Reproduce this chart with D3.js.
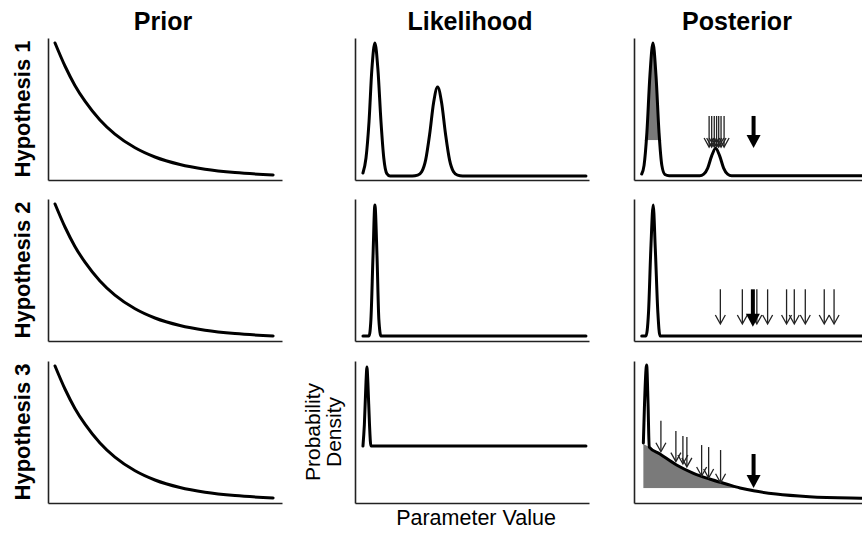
<!DOCTYPE html>
<html>
<head>
<meta charset="utf-8">
<script src="https://cdn.jsdelivr.net/npm/d3@7"></script>
<style>
	body { margin: 0; background: #fff; }
	svg { display: block; font-family: "Liberation Sans", Arial, Helvetica, sans-serif; }
	.axis path { stroke: #222; stroke-width: 1.6px; }
	.curve { fill: none; stroke: #000; stroke-width: 3px; stroke-linejoin: round; stroke-linecap: round; }
	.shade { fill: #7a7a7a; stroke: none; }
</style>
</head>
<body>
<div id="chart"></div>
<script>
// Titles
var colTitles = ["Prior", "Likelihood", "Posterior"];
var rowLabels = ["Hypothesis 1", "Hypothesis 2", "Hypothesis 3"];

// Curves as [parameter, density], both on a 0-100 scale
var priorCurve = [[3.0,96.5],[7.3,80.1],[11.5,66.6],[15.8,55.5],[22.2,42.3],[28.6,32.3],[37.2,22.7],
	[45.7,16.2],[56.4,10.9],[67.1,7.6],[79.9,5.2],[96.2,3.6]];

var like1Curve = [[3.4,4.9],[4.7,15.5],[6.0,41.2],[7.2,77.7],[8.5,96.5],[9.8,77.7],[11.1,41.2],[12.3,15.5],
	[13.6,4.5],[15.0,2.8],[24.5,2.8],[26.8,3.4],[28.5,5.8],[30.2,14.2],[31.9,32.2],[33.6,54.6],[35.3,65.5],
	[37.0,54.6],[38.7,32.2],[40.4,14.2],[42.1,5.8],[43.8,3.4],[46.0,2.8],[98.7,2.8]];
var like2Curve = [[3.4,3.5],[6.0,3.5],[6.8,15],[7.7,60],[8.5,95.8],[9.4,60],[10.2,15],[11.1,3.5],[98.7,3.5]];
var like3Curve = [[3.4,40.1],[4.0,55],[4.7,85],[5.1,95.8],[5.5,85],[6.2,55],[6.8,40.1],[98.7,40.1]];

var post1Curve = [[3.3,4.2],[4.3,10.3],[5.5,33.2],[6.8,73.5],[8.1,96.5],[9.4,73.5],[10.7,33.2],[11.9,10.3],
	[13.2,3.9],[15.0,3.0],[28.1,3.0],[29.8,4.1],[31.5,8.4],[33.2,17.0],[34.9,22.3],[36.6,17.0],[38.3,8.4],
	[40.0,4.1],[41.7,3.0],[100,3.0]];
var post2Curve = [[3.3,3.5],[5.1,3.5],[6.2,20],[7.2,65],[8.2,95.8],[9.1,65],[10.2,20],[11.1,3.5],[100,3.5]];
var post3Curve = [[4.0,42.3],[4.5,70],[5.4,97.2],[6.0,70],[6.5,39.4],[11.1,34.5],[18.2,26.8],[25.2,21.1],
	[32.3,16.9],[39.4,13.4],[45.3,10.6],[51.1,8.6],[60.7,6.3],[74.9,4.4],[97.0,3.3],[100,3.2]];

// Shaded parts of the posteriors, filled down to a floor value
var post1Shade = [[4.3,10.3],[5.5,33.2],[6.8,73.5],[8.1,96.5],[9.4,73.5],[10.7,33.2],[11.9,10.3]];
var post1Floor = 28;
var post3Shade = [[4.0,41.5],[6.5,39.4],[11.1,34.5],[18.2,26.8],[25.2,21.1],[32.3,16.9],[39.4,13.4],
	[45.3,10.6],[51.1,8.6]];
var post3Floor = 10.4;

// Sample arrows [parameter, top, tip] and the mean arrow
var post1Samples = [[32.1,45.1,23.2],[33.2,45.1,23.2],[34.3,45.1,23.2],[35.3,45.1,23.2],[36.2,45.1,23.2],
	[37.2,45.1,23.2],[38.5,45.1,23.2]];
var post1Mean = [51.1,45.1,22.5];
var post2Samples = [[36.9,36.4,12.0],[46.3,36.4,12.0],[52.5,36.4,12.0],[57.1,36.4,12.0],[65.2,36.4,12.0],
	[68.5,36.4,12.0],[73.2,36.4,12.0],[81.3,36.4,12.0],[85.5,36.4,12.0]];
var post2Mean = [50.8,36.4,10.1];
var post3Samples = [[11.5,58.0,36.1],[17.9,50.7,29.1],[20.9,47.2,27.5],[22.6,46.5,25.4],[28.9,40.8,19.0],
	[31.9,39.4,17.6],[37.0,37.3,14.3]];
var post3Mean = [51.1,34.5,10.6];

var W = 862, H = 533;
var colLeft = [48, 355, 634];
var rowTop = [38, 199, 361];
var panelW = 234, panelH = 142;

var svg = d3.select("#chart").append("svg")
	.attr("width", W)
	.attr("height", H);

/**
One small plot: axes, curve, optional shading and arrows
*/
var Panel = function(config){
	this.shade = null;
	this.floor = 0;
	this.samples = [];
	this.mean = null;
	Object.keys(config).forEach(key => this[key] = config[key]);

	this.left = colLeft[this.col];
	this.top = rowTop[this.row];
	this.id = "p" + this.row + this.col;

	this.setupScales();
	this.drawAxes();
	this.drawShade();
	this.drawCurve();
	this.drawArrows();
};

Panel.prototype.setupScales = function(){
	this.x = d3.scaleLinear().domain([0, 100]).range([this.left, this.left + panelW]);
	this.y = d3.scaleLinear().domain([0, 100]).range([this.top + panelH, this.top]);
};

Panel.prototype.drawAxes = function(){
	svg.append("g")
		.attr("class", "axis")
		.attr("transform", `translate(0, ${this.top + panelH})`)
		.call(d3.axisBottom(this.x).tickValues([]).tickSizeOuter(0));
	svg.append("g")
		.attr("class", "axis")
		.attr("transform", `translate(${this.left}, 0)`)
		.call(d3.axisLeft(this.y).tickValues([]).tickSizeOuter(0));
};

Panel.prototype.drawShade = function(){
	if (!this.shade) return;
	let x = this.x, y = this.y, floor = this.floor;

	// only keep what lies above the floor
	svg.append("clipPath")
		.attr("id", "clip" + this.id)
		.append("rect")
		.attr("x", this.left)
		.attr("y", this.top - 10)
		.attr("width", panelW)
		.attr("height", y(floor) - this.top + 10);

	svg.append("path")
		.datum(this.shade)
		.attr("class", "shade")
		.attr("clip-path", `url(#clip${this.id})`)
		.attr("d", d3.area()
			.x(d => x(d[0]))
			.y0(y(floor))
			.y1(d => y(d[1]))
			.curve(d3.curveMonotoneX));
};

Panel.prototype.drawCurve = function(){
	let x = this.x, y = this.y;
	svg.append("path")
		.datum(this.curve)
		.attr("class", "curve")
		.attr("d", d3.line()
			.x(d => x(d[0]))
			.y(d => y(d[1]))
			.curve(d3.curveMonotoneX));
};

Panel.prototype.drawArrows = function(){
	let x = this.x, y = this.y;
	let g = svg.append("g");

	// thin arrows for the samples
	this.samples.forEach(function(a){
		let ax = x(a[0]), top = y(a[1]), tip = y(a[2]);
		g.append("line")
			.attr("x1", ax).attr("x2", ax)
			.attr("y1", top).attr("y2", tip - 1)
			.attr("stroke", "#222")
			.attr("stroke-width", 1.3);
		g.append("path")
			.attr("d", `M${ax - 5},${tip - 9}L${ax},${tip}L${ax + 5},${tip - 9}`)
			.attr("fill", "none")
			.attr("stroke", "#222")
			.attr("stroke-width", 1.3);
	});

	// thick arrow for the mean
	if (this.mean){
		let ax = x(this.mean[0]), top = y(this.mean[1]), tip = y(this.mean[2]);
		g.append("line")
			.attr("x1", ax).attr("x2", ax)
			.attr("y1", top).attr("y2", tip - 9)
			.attr("stroke", "#000")
			.attr("stroke-width", 4);
		g.append("path")
			.attr("d", `M${ax - 7},${tip - 13}L${ax + 7},${tip - 13}L${ax},${tip}Z`)
			.attr("fill", "#000");
	}
};

// Build the grid
[0, 1, 2].forEach(r => new Panel({row: r, col: 0, curve: priorCurve}));
new Panel({row: 0, col: 1, curve: like1Curve});
new Panel({row: 1, col: 1, curve: like2Curve});
new Panel({row: 2, col: 1, curve: like3Curve});
new Panel({row: 0, col: 2, curve: post1Curve, shade: post1Shade, floor: post1Floor,
	samples: post1Samples, mean: post1Mean});
new Panel({row: 1, col: 2, curve: post2Curve, samples: post2Samples, mean: post2Mean});
new Panel({row: 2, col: 2, curve: post3Curve, shade: post3Shade, floor: post3Floor,
	samples: post3Samples, mean: post3Mean});

// Column titles
var titleX = [163, 470, 737];
svg.selectAll(".colTitle")
	.data(colTitles)
	.enter()
	.append("text")
	.attr("class", "colTitle")
	.attr("x", (d, i) => titleX[i])
	.attr("y", 30)
	.attr("text-anchor", "middle")
	.style("font-size", "25px")
	.style("font-weight", "bold")
	.text(d => d);

// Row labels
svg.selectAll(".rowLabel")
	.data(rowLabels)
	.enter()
	.append("text")
	.attr("class", "rowLabel")
	.attr("transform", (d, i) => `translate(30, ${rowTop[i] + panelH / 2}) rotate(-90)`)
	.attr("text-anchor", "middle")
	.style("font-size", "22px")
	.style("font-weight", "bold")
	.text(d => d);

// Axis labels
var yLab = svg.append("text")
	.attr("transform", `translate(320, ${rowTop[2] + panelH / 2}) rotate(-90)`)
	.attr("text-anchor", "middle")
	.style("font-size", "21px");
yLab.append("tspan").attr("x", 0).attr("dy", 0).text("Probability");
yLab.append("tspan").attr("x", 0).attr("dy", 21).text("Density");

svg.append("text")
	.attr("x", 476)
	.attr("y", 525)
	.attr("text-anchor", "middle")
	.style("font-size", "21.5px")
	.text("Parameter Value");
</script>
</body>
</html>
